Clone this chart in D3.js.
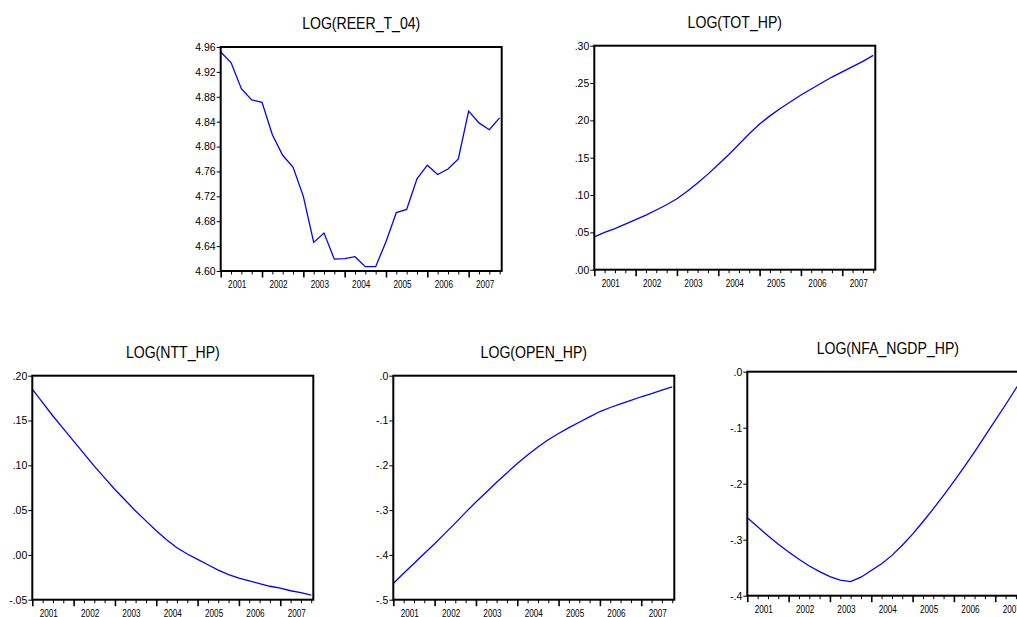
<!DOCTYPE html>
<html>
<head>
<meta charset="utf-8">
<script src="https://cdnjs.cloudflare.com/ajax/libs/d3/7.8.5/d3.min.js"></script>
<style>
  body { margin: 0; background: #fff; }
  svg text { font-family: "Liberation Sans", Arial, sans-serif; fill: #000; }
</style>
</head>
<body>
<div id="chart"></div>
<script>
// quarterly data 2001Q1 - 2007Q4
const years = ['2001', '2002', '2003', '2004', '2005', '2006', '2007'];

const reer = [4.952, 4.935, 4.893, 4.875, 4.871, 4.819, 4.786, 4.767, 4.720, 4.646, 4.661, 4.619, 4.620, 4.623,
              4.607, 4.607, 4.647, 4.694, 4.699, 4.748, 4.770, 4.755, 4.764, 4.780, 4.857, 4.838, 4.827, 4.846];
const tot = [.044, .050, .055, .061, .067, .073, .080, .087, .095, .105, .116, .128, .141, .154,
             .168, .182, .195, .206, .216, .225, .234, .242, .250, .258, .265, .272, .279, .287];
const ntt = [.185, .170, .155, .141, .127, .113, .099, .086, .073, .061, .049, .038, .027, .017,
             .008, .001, -.005, -.011, -.017, -.022, -.026, -.029, -.032, -.035, -.037, -.040, -.042, -.045];
const open = [-.464, -.441, -.419, -.397, -.375, -.352, -.329, -.305, -.282, -.260, -.238, -.217, -.196, -.177,
              -.159, -.143, -.129, -.116, -.104, -.092, -.080, -.071, -.063, -.055, -.047, -.040, -.032, -.025];
const nfa = [-.261, -.277, -.293, -.308, -.322, -.335, -.347, -.357, -.366, -.372, -.375, -.367, -.355, -.343,
             -.328, -.310, -.290, -.268, -.245, -.221, -.196, -.170, -.143, -.115, -.087, -.059, -.030, -.002];

// y tick labels
const reerTicks = [4.60, 4.64, 4.68, 4.72, 4.76, 4.80, 4.84, 4.88, 4.92, 4.96];
const totTicks = [.00, .05, .10, .15, .20, .25, .30];
const nttTicks = [-.05, .00, .05, .10, .15, .20];
const openTicks = [-.5, -.4, -.3, -.2, -.1, .0];
const nfaTicks = [-.4, -.3, -.2, -.1, .0];

const W = 1017, H = 617;
const w = 281, h = 224;

const panels = [
  { title: 'LOG(REER_T_04)', values: reer, ticks: reerTicks, dec: 2, left: 220.7, top: 47 },
  { title: 'LOG(TOT_HP)', values: tot, ticks: totTicks, dec: 2, left: 594.3, top: 45.7 },
  { title: 'LOG(NTT_HP)', values: ntt, ticks: nttTicks, dec: 2, left: 32.3, top: 375.7 },
  { title: 'LOG(OPEN_HP)', values: open, ticks: openTicks, dec: 1, left: 393.3, top: 375.7 },
  { title: 'LOG(NFA_NGDP_HP)', values: nfa, ticks: nfaTicks, dec: 1, left: 747.3, top: 371.7 }
];

const svg = d3.select('#chart')
  .append('svg')
  .attr('width', W)
  .attr('height', H);

// eviews style labels, plain hyphen and no leading zero
function label(dec) {
  const f = d3.format('.' + dec + 'f');
  return function(v) {
    return f(v).replace('\u2212', '-').replace(/^(-?)0\./, '$1.');
  };
}

function buildPanel(p) {
  const g = svg.append('g')
    .attr('transform', 'translate(' + p.left + ',' + p.top + ')');

  const xScale = d3.scaleLinear()
    .domain([0, 27.2])
    .range([0, w]);

  const yScale = d3.scaleLinear()
    .domain([p.ticks[0], p.ticks[p.ticks.length - 1]])
    .range([h, 0]);

  // left axis
  const yAxis = g.append('g')
    .call(d3.axisLeft(yScale).tickValues(p.ticks).tickSize(4).tickPadding(1).tickFormat(label(p.dec)));
  yAxis.select('.domain').remove();
  yAxis.selectAll('line').attr('stroke', '#000').attr('stroke-width', 1);
  yAxis.selectAll('text')
    .attr('font-size', '10.5px')
    .attr('font-family', '"Liberation Sans", Arial, sans-serif');

  // quarter ticks, longer on year start
  const xAxis = g.append('g')
    .attr('transform', 'translate(0,' + h + ')')
    .call(d3.axisBottom(xScale).tickValues(d3.range(0, 28)).tickSize(3.5).tickFormat(''));
  xAxis.select('.domain').remove();
  xAxis.selectAll('line')
    .attr('stroke', '#000')
    .attr('stroke-width', function(d) { return d % 4 === 0 ? 1.6 : 1; })
    .attr('y2', function(d) { return d % 4 === 0 ? 6.5 : 3.5; });

  g.selectAll('.year')
    .data(years)
    .enter()
    .append('text')
    .attr('class', 'year')
    .attr('text-anchor', 'middle')
    .attr('font-size', '10.5px')
    .attr('transform', function(d, i) {
      return 'translate(' + xScale(i * 4 + 1.6) + ',' + (h + 17) + ') scale(0.78,1)';
    })
    .text(function(d) { return d; });

  // the series
  const line = d3.line()
    .x(function(d, i) { return xScale(i); })
    .y(function(d) { return yScale(d); });

  g.append('path')
    .datum(p.values)
    .attr('fill', 'none')
    .attr('stroke', '#0000ff')
    .attr('stroke-width', 1.3)
    .attr('d', line);

  // frame
  g.append('rect')
    .attr('x', 0)
    .attr('y', 0)
    .attr('width', w)
    .attr('height', h)
    .attr('fill', 'none')
    .attr('stroke', '#000')
    .attr('stroke-width', 2);

  g.append('text')
    .attr('text-anchor', 'middle')
    .attr('font-size', '16px')
    .attr('transform', 'translate(' + (w / 2) + ',-18) scale(0.88,1)')
    .text(p.title);
}

panels.forEach(buildPanel);
</script>
</body>
</html>
